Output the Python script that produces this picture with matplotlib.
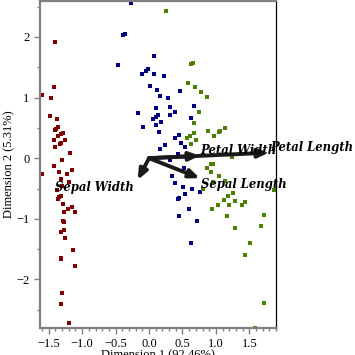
import matplotlib.pyplot as plt
from matplotlib.ticker import MultipleLocator

# scores
setosa_x = [-1.413, -1.428, -1.593, -1.473, -1.488, -1.369, -1.354, -1.384, -1.413, -1.279,
            -1.309, -1.354, -1.428, -1.249, -1.309, -1.324, -1.399, -1.175, -1.294, -1.428,
            -1.145, -1.339, -1.593, -1.219, -1.309, -1.190, -1.294, -1.369, -1.339, -1.309,
            -1.354, -1.279, -1.145, -1.204, -1.264, -1.100, -1.279, -1.264, -1.264, -1.309,
            -1.249, -1.130, -1.309, -1.309, -1.100, -1.294, -1.309, -1.190]
setosa_y = [1.912, 1.169, 1.036, 0.987, 0.689, 0.640, 0.507, 0.474, 0.458, 0.408,
            0.392, 0.359, 0.293, 0.293, 0.243, 0.226, 0.177, 0.078, -0.038, -0.137,
            -0.203, -0.220, -0.269, -0.269, -0.336, -0.385, -0.463, -0.517, -0.633, -0.617,
            -0.666, -0.749, -0.798, -0.831, -0.881, -0.881, -1.030, -1.046, -1.179, -1.212,
            -1.311, -1.509, -1.641, -1.658, -1.774, -2.220, -2.402, -2.716]

versicolor_x = [-0.264, -0.384, -0.354, 0.079, -0.458, -0.010, -0.040, -0.100, 0.079, 0.228,
                0.019, 0.124, 0.467, 0.169, 0.288, 0.109, 0.318, 0.676, -0.160, 0.393,
                0.139, 0.109, 0.318, 0.064, 0.631, 0.184, 0.109, -0.085, 0.154, 0.243,
                0.169, 0.393, 0.452, 0.482, 0.542, 0.437, 0.318, 0.527, 0.348, 0.393,
                0.512, 0.646, 0.542, 0.452, 0.437, 0.766, 0.601, 0.452, 0.721, 0.631]
versicolor_y = [2.557, 2.028, 2.045, 1.681, 1.532, 1.466, 1.433, 1.383, 1.383, 1.350,
                1.185, 1.119, 1.102, 1.020, 0.987, 0.821, 0.838, 0.855, 0.739, 0.755,
                0.706, 0.673, 0.706, 0.640, 0.656, 0.590, 0.540, 0.507, 0.425, 0.210,
                0.144, 0.326, 0.375, 0.243, 0.177, 0.061, -0.038, -0.154, -0.302, -0.402,
                -0.468, -0.501, -0.583, -0.650, -0.666, -0.550, -0.831, -0.947, -1.030, -1.393]

virginica_x = [0.258, 0.631, 0.661, 0.587, 0.691, 0.781, 0.870, 0.751, 0.676, 0.885,
               0.676, 0.616, 0.572, 0.706, 0.631, 0.975, 1.049, 1.064, 1.139, 1.243,
               0.960, 0.930, 0.870, 0.930, 1.049, 0.960, 1.139, 0.810, 1.258, 1.184,
               1.124, 1.288, 1.437, 1.393, 1.034, 1.199, 0.945, 1.169, 1.721, 1.288,
               1.676, 1.512, 1.437, 1.721, 1.587, 1.870, 1.154]
virginica_y = [2.425, 1.549, 1.565, 1.235, 1.169, 1.086, 1.003, 0.755, 0.574, 0.441,
               0.408, 0.359, 0.326, 0.293, 0.226, 0.359, 0.425, 0.441, 0.491, 0.012,
               -0.088, -0.104, -0.170, -0.236, -0.286, -0.385, -0.369, -0.501, -0.567, -0.617,
               -0.683, -0.699, -0.716, -0.765, -0.765, -0.765, -0.831, -0.947, -0.931, -1.145,
               -1.112, -1.393, -1.592, -2.385, -2.798, -0.517, 0.061]

# loadings (arrow tips) and labels
variables = ["Sepal Length", "Sepal Width", "Petal Length", "Petal Width"]
load_x = [0.76, -0.17, 1.79, 0.76]
load_y = [-0.33, -0.36, 0.09, 0.04]
label_x = [0.78, -1.41, 1.81, 0.76]
label_y = [-0.44, -0.49, 0.17, 0.12]

fig = plt.figure(figsize=(3.55, 3.55), dpi=100)
ax = fig.add_axes([0.1127, 0.076, 0.665, 0.921])

ax.plot(setosa_x, setosa_y, 's', color='#800000', ms=2.4, mew=0)
ax.plot(versicolor_x, versicolor_y, 's', color='#000080', ms=2.4, mew=0)
ax.plot(virginica_x, virginica_y, 's', color='#4c8000', ms=2.4, mew=0)

for name, lx, ly, tx, ty in zip(variables, load_x, load_y, label_x, label_y):
    ax.annotate('', xy=(lx, ly), xytext=(0, 0),
                arrowprops=dict(arrowstyle='-|>,head_width=0.25,head_length=0.6',
                                lw=2.8, color='#1a1a1a', shrinkA=0, shrinkB=0))
    ax.text(tx, ty, name, family='DejaVu Serif', fontweight='bold', fontstyle='italic',
            fontsize=8.4, va='center', ha='left', clip_on=False)

ax.set_xlim(-1.63, 1.9)
ax.set_ylim(-2.8, 2.59)
ax.xaxis.set_major_locator(MultipleLocator(0.5))
ax.xaxis.set_minor_locator(MultipleLocator(0.1))
ax.yaxis.set_major_locator(MultipleLocator(1))
ax.yaxis.set_minor_locator(MultipleLocator(0.5))

for side in ['left', 'top', 'bottom']:
    ax.spines[side].set_color('#808080')
    ax.spines[side].set_linewidth(1.6)
ax.spines['right'].set_color('black')
ax.spines['right'].set_linewidth(0.9)

ax.tick_params(which='both', color='#808080', width=1, labelsize=9)
ax.tick_params(which='major', length=4)
ax.tick_params(which='minor', length=2.5)
for lab in ax.get_xticklabels() + ax.get_yticklabels():
    lab.set_family('Liberation Serif')

ax.set_xlabel('Dimension 1 (92.46%)', family='Liberation Serif', fontsize=9, labelpad=-1)
ax.set_ylabel('Dimension 2 (5.31%)', family='Liberation Serif', fontsize=9, labelpad=1)

fig.savefig('out.png', dpi=100)
